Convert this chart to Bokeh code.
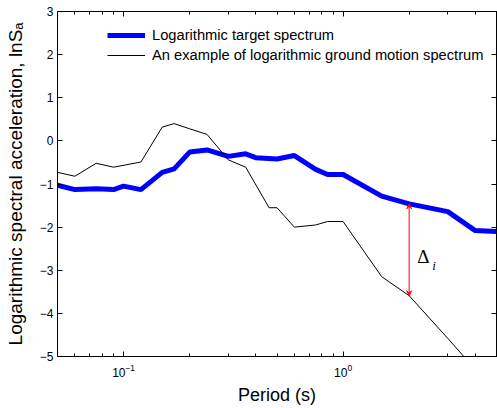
import numpy as np
from bokeh.plotting import figure
from bokeh.models import (LogAxis, LinearAxis, FixedTicker, Legend, LegendItem,
                          Arrow, VeeHead, Label, Range1d, ColumnDataSource, CustomJSTickFormatter)
from bokeh.embed import file_html
from bokeh.resources import INLINE

# ---- data ----
target_period = [0.05, 0.06, 0.075, 0.09, 0.1, 0.12, 0.15, 0.17, 0.2, 0.24, 0.3, 0.36,
                 0.4, 0.5, 0.6, 0.75, 0.85, 1.0, 1.5, 2.0, 3.0, 4.0, 5.0]
target_ln_sa = [-1.03, -1.13, -1.11, -1.13, -1.05, -1.13, -0.73, -0.65, -0.26, -0.21, -0.36, -0.30,
                -0.39, -0.42, -0.34, -0.66, -0.78, -0.78, -1.28, -1.46, -1.64, -2.08, -2.10]

ground_period = [0.05, 0.06, 0.075, 0.09, 0.12, 0.15, 0.17, 0.2, 0.24, 0.3, 0.36, 0.46,
                 0.5, 0.6, 0.75, 0.85, 1.0, 1.5, 2.0, 3.0, 4.0]
ground_ln_sa = [-0.73, -0.82, -0.52, -0.61, -0.49, 0.32, 0.40, 0.28, 0.15, -0.44, -0.61, -1.55,
                -1.55, -2.00, -1.95, -1.87, -1.87, -3.15, -3.59, -4.58, -5.30]

delta_period = 2.0
x_major_ticks = [0.1, 1.0]
x_minor_ticks = [m * 10.0 ** e for e in (-2, -1, 0) for m in range(2, 10)]
y_ticks = [-5, -4, -3, -2, -1, 0, 1, 2, 3]

FONT = "Liberation Sans"

p = figure(width=497, height=408, x_axis_type="log",
           x_range=Range1d(0.05, 5), y_range=Range1d(-5, 3),
           output_backend="svg", toolbar_location=None,
           min_border_left=57, min_border_right=1, min_border_top=11, min_border_bottom=52)
p.background_fill_color = "white"
p.border_fill_color = "white"
p.outline_line_color = "black"
p.grid.visible = False

xt = FixedTicker(ticks=x_major_ticks, minor_ticks=[t for t in x_minor_ticks if 0.05 <= t <= 5])
yt = FixedTicker(ticks=y_ticks, minor_ticks=[])

def style(ax, labels=True):
    ax.axis_line_color = "black"
    ax.major_tick_line_color = "black"
    ax.minor_tick_line_color = "black"
    ax.major_tick_in = 5
    ax.major_tick_out = 0
    ax.minor_tick_in = 3
    ax.minor_tick_out = 0
    ax.major_label_text_color = "black"
    ax.major_label_text_font = FONT
    ax.major_label_text_font_size = "12px"
    if not labels:
        ax.formatter = CustomJSTickFormatter(code="return ''")
        ax.major_label_standoff = 0

xa = p.xaxis[0]
xa.ticker = xt
style(xa)
xa.major_label_standoff = 7
xa.axis_label = "Period (s)"
xa.axis_label_text_font = FONT
xa.axis_label_text_font_size = "18px"
xa.axis_label_text_font_style = "normal"
xa.axis_label_text_color = "black"
xa.axis_label_standoff = 5

ya = p.yaxis[0]
ya.ticker = yt
style(ya)
ya.major_label_standoff = 4
ya.axis_label = "Logarithmic spectral acceleration, lnSₐ"
ya.axis_label_text_font = FONT
ya.axis_label_text_font_size = "19px"
ya.axis_label_text_font_style = "normal"
ya.axis_label_text_color = "black"
ya.axis_label_standoff = 11

top = LogAxis(ticker=xt)
style(top, labels=False)
p.add_layout(top, "above")
right = LinearAxis(ticker=yt)
style(right, labels=False)
p.add_layout(right, "right")

src_t = ColumnDataSource(dict(x=target_period, y=target_ln_sa))
src_g = ColumnDataSource(dict(x=ground_period, y=ground_ln_sa))
r1 = p.line("x", "y", source=src_t, line_color="#0000ff", line_width=5)
r2 = p.line("x", "y", source=src_g, line_color="black", line_width=1)

i_t = target_period.index(delta_period)
i_g = ground_period.index(delta_period)
y_top = target_ln_sa[i_t]
y_bot = ground_ln_sa[i_g]
arrow = Arrow(x_start=delta_period, y_start=y_bot, x_end=delta_period, y_end=y_top,
              line_color="red", line_width=1,
              start=VeeHead(size=5, line_color="red", fill_color="red", line_width=1),
              end=VeeHead(size=5, line_color="red", fill_color="red", line_width=1))
p.add_layout(arrow)

ymid = (y_top + y_bot) / 2
p.add_layout(Label(x=delta_period, y=ymid, x_offset=8, y_offset=-7, text="Δ",
                   text_font="Liberation Serif", text_font_size="19px",
                   text_align="left", text_baseline="middle", text_color="black"))
p.add_layout(Label(x=delta_period, y=ymid, x_offset=23, y_offset=-16, text="i",
                   text_font="Liberation Serif", text_font_size="13px", text_font_style="italic",
                   text_align="left", text_baseline="middle", text_color="black"))

legend = Legend(items=[LegendItem(label="Logarithmic target spectrum", renderers=[r1]),
                       LegendItem(label="An example of logarithmic ground motion spectrum", renderers=[r2])],
                location=(50, 293), border_line_alpha=0, background_fill_alpha=0,
                padding=0, margin=0, glyph_width=38, glyph_height=16, label_height=16,
                label_standoff=7, spacing=4, label_text_font_size="14.7px",
                label_text_font=FONT, label_text_color="black")
p.add_layout(legend)

open("out.html", "w").write(file_html(p, INLINE))
